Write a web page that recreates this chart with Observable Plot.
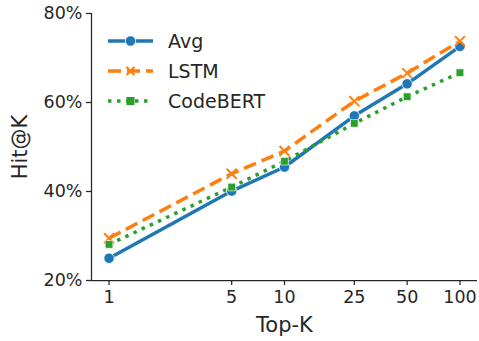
<!DOCTYPE html>
<html><head><meta charset="utf-8">
<script src="https://cdn.jsdelivr.net/npm/d3@7"></script>
<script src="https://cdn.jsdelivr.net/npm/@observablehq/plot@0.6"></script>
<style>
body{margin:0;background:#fff;}
#wrap{position:relative;width:479px;height:341px;}
#legend{position:absolute;left:0;top:0;}
</style></head><body><div id="wrap"></div>
<script>
const topK = [1, 5, 10, 25, 50, 100];
const avg = [25.0, 40.1, 45.5, 57.0, 64.2, 72.6];
const lstm = [29.5, 44.0, 49.1, 60.3, 66.6, 73.8];
const codebert = [28.1, 41.0, 46.8, 55.3, 61.3, 66.7];
const series = ["Avg", "LSTM", "CodeBERT"];
const colors = ["#1f77b4", "#ff7f0e", "#2ca02c"];
const yTicks = [20, 40, 60, 80];
const xLabel = "Top-K";
const yLabel = "Hit@K";

const data = [];
[avg, lstm, codebert].forEach((arr, i) => arr.forEach((v, j) => data.push({k: topK[j], v, s: series[i]})));
const bySeries = s => data.filter(d => d.s === s);

const font = "'DejaVu Sans', sans-serif";
const ink = "#262626";
const xDomain = [Math.pow(10, -0.1), Math.pow(10, 2.1)];
const yDomain = [yTicks[0], yTicks[yTicks.length - 1]];
const dash = {"Avg": null, "LSTM": "13,6", "CodeBERT": "3.5,5.5"};

const plot = Plot.plot({
  width: 479, height: 341,
  marginLeft: 91, marginRight: 2, marginTop: 13, marginBottom: 61,
  style: {fontFamily: font, fontSize: "17px", color: ink, background: "#fff", overflow: "visible"},
  x: {type: "log", domain: xDomain, axis: null},
  y: {domain: yDomain},
  color: {domain: series, range: colors},
  marks: [
    Plot.axisY(yTicks, {tickSize: 5, tickPadding: 4, tickFormat: d => d + "%", label: null, stroke: ink, strokeWidth: 1.25, fontSize: 17.5}),
    // x axis ticks and labels (custom, so that 5/25/50 are not filtered out on the log scale)
    Plot.ruleX(topK, {x: d => d, y1: yDomain[0], y2: yDomain[0], insetBottom: -5, stroke: ink, strokeWidth: 1.25}),
    Plot.text(topK, {x: d => d, text: d => String(d), frameAnchor: "bottom", dy: 10, lineAnchor: "top", fontSize: 17.5, fill: ink}),
    Plot.ruleX([xDomain[0]], {stroke: ink, strokeWidth: 1.25}),
    Plot.ruleY([yDomain[0]], {stroke: ink, strokeWidth: 1.25}),
    ...series.map(s => Plot.line(bySeries(s), {x: "k", y: "v", stroke: "s", strokeWidth: 3.5, strokeDasharray: dash[s], strokeLinecap: "butt"})),
    Plot.dot(bySeries("Avg"), {x: "k", y: "v", fill: "s", r: 5.2, stroke: "white", strokeWidth: 0.8}),
    Plot.dot(bySeries("LSTM"), {x: "k", y: "v", stroke: "s", symbol: "times", r: 4.6, strokeWidth: 2}),
    Plot.dot(bySeries("CodeBERT"), {x: "k", y: "v", fill: "s", symbol: "square", r: 4.3, stroke: "white", strokeWidth: 0.6}),
    Plot.text([yLabel], {frameAnchor: "left", rotate: -90, dx: -71, fontSize: 21, fill: ink, textAnchor: "middle", lineAnchor: "middle"}),
    Plot.text([xLabel], {frameAnchor: "bottom", dy: 45, fontSize: 21, fill: ink, lineAnchor: "middle"})
  ]
});
const wrap = document.getElementById("wrap");
wrap.appendChild(plot);

// legend
const svg = d3.select(wrap).append("svg").attr("id", "legend").attr("width", 479).attr("height", 341);
const lx0 = 108, lx1 = 153, ly0 = 41, lstep = 30;
series.forEach((s, i) => {
  const y = ly0 + i * lstep, c = colors[i], mx = (lx0 + lx1) / 2;
  svg.append("line").attr("x1", lx0).attr("x2", lx1).attr("y1", y).attr("y2", y)
    .attr("stroke", c).attr("stroke-width", 3.5).attr("stroke-dasharray", dash[s]);
  if (s === "Avg") svg.append("circle").attr("cx", mx).attr("cy", y).attr("r", 5.2).attr("fill", c).attr("stroke", "white").attr("stroke-width", 0.8);
  if (s === "LSTM") svg.append("path").attr("d", `M${mx-4},${y-4}L${mx+4},${y+4}M${mx-4},${y+4}L${mx+4},${y-4}`).attr("stroke", c).attr("stroke-width", 2.2);
  if (s === "CodeBERT") svg.append("rect").attr("x", mx - 4).attr("y", y - 4).attr("width", 8).attr("height", 8).attr("fill", c);
  svg.append("text").attr("x", 168).attr("y", y).attr("dy", "0.36em").attr("font-family", font).attr("font-size", 19).attr("fill", ink).text(s);
});
</script></body></html>
